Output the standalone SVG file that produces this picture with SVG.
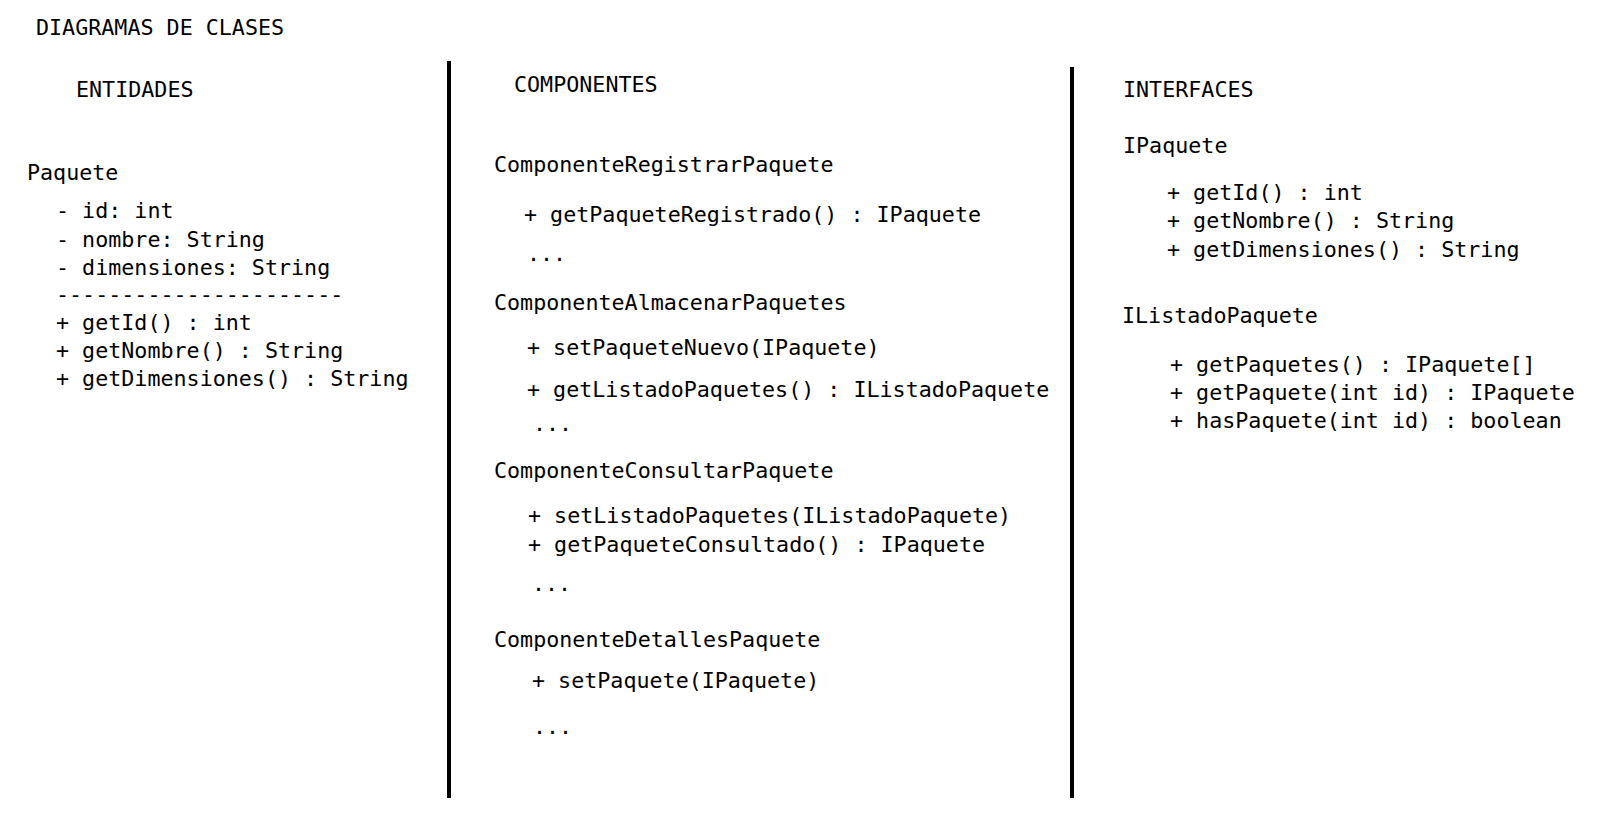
<svg xmlns="http://www.w3.org/2000/svg" width="1606" height="835" viewBox="0 0 1606 835">
<style>
text{font-family:"DejaVu Sans Mono","Liberation Mono",monospace;fill:#000;white-space:pre;font-size:21.7px}
.div{stroke:#000;stroke-width:4;stroke-linecap:square}
</style>
<rect width="1606" height="835" fill="#fff"/>
<g id="title"><text x="36" y="35">DIAGRAMAS DE CLASES</text></g>
<g id="entidades">
<text x="76" y="97">ENTIDADES</text>
<g id="Paquete">
<text x="27" y="180">Paquete</text>
<text x="56" y="218">- id: int</text>
<text x="56" y="247">- nombre: String</text>
<text x="56" y="275">- dimensiones: String</text>
<text x="56" y="302">----------------------</text>
<text x="56" y="330">+ getId() : int</text>
<text x="56" y="358">+ getNombre() : String</text>
<text x="56" y="386">+ getDimensiones() : String</text>
</g>
</g>
<g id="componentes">
<text x="514" y="92">COMPONENTES</text>
<g id="ComponenteRegistrarPaquete">
<text x="494" y="172">ComponenteRegistrarPaquete</text>
<text x="524" y="222">+ getPaqueteRegistrado() : IPaquete</text>
<text x="527" y="261">...</text>
</g>
<g id="ComponenteAlmacenarPaquetes">
<text x="494" y="310">ComponenteAlmacenarPaquetes</text>
<text x="527" y="355">+ setPaqueteNuevo(IPaquete)</text>
<text x="527" y="397">+ getListadoPaquetes() : IListadoPaquete</text>
<text x="533" y="431">...</text>
</g>
<g id="ComponenteConsultarPaquete">
<text x="494" y="478">ComponenteConsultarPaquete</text>
<text x="528" y="523">+ setListadoPaquetes(IListadoPaquete)</text>
<text x="528" y="552">+ getPaqueteConsultado() : IPaquete</text>
<text x="532" y="591">...</text>
</g>
<g id="ComponenteDetallesPaquete">
<text x="494" y="647">ComponenteDetallesPaquete</text>
<text x="532" y="688">+ setPaquete(IPaquete)</text>
<text x="533" y="734">...</text>
</g>
</g>
<g id="interfaces">
<text x="1123" y="97">INTERFACES</text>
<g id="IPaquete">
<text x="1123" y="153">IPaquete</text>
<text x="1167" y="200">+ getId() : int</text>
<text x="1167" y="228">+ getNombre() : String</text>
<text x="1167" y="257">+ getDimensiones() : String</text>
</g>
<g id="IListadoPaquete">
<text x="1122" y="323">IListadoPaquete</text>
<text x="1170" y="372">+ getPaquetes() : IPaquete[]</text>
<text x="1170" y="400">+ getPaquete(int id) : IPaquete</text>
<text x="1170" y="428">+ hasPaquete(int id) : boolean</text>
</g>
</g>
<g id="connectors">
<line class="div" x1="449" y1="63" x2="449" y2="796"/>
<line class="div" x1="1072" y1="69" x2="1072" y2="796"/>
</g>
</svg>
